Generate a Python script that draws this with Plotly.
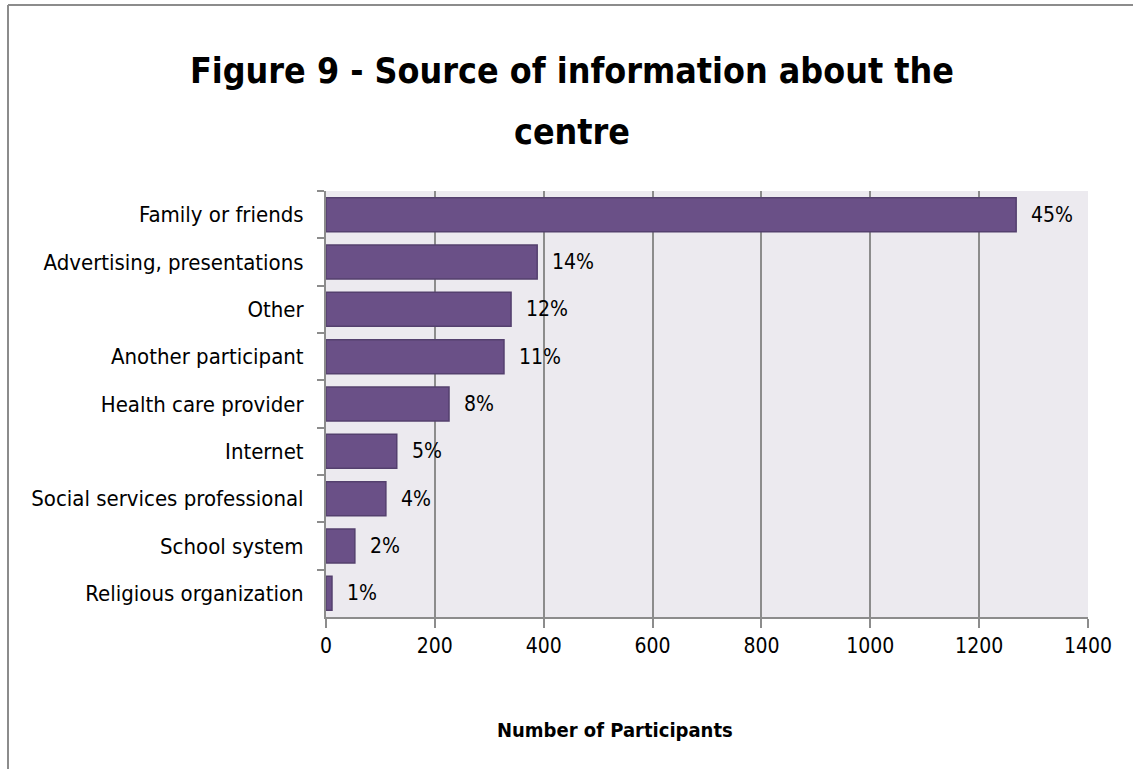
import plotly.graph_objects as go

categories = [
    "Family or friends",
    "Advertising, presentations",
    "Other",
    "Another participant",
    "Health care provider",
    "Internet",
    "Social services professional",
    "School system",
    "Religious organization",
]
participants = [1268, 388, 340, 327, 226, 130, 110, 53, 11]
share_labels = ["45%", "14%", "12%", "11%", "8%", "5%", "4%", "2%", "1%"]
x_ticks = [0, 200, 400, 600, 800, 1000, 1200, 1400]

FONT = "Liberation Sans Narrow, DejaVu Sans Condensed, Roboto, sans-serif"

# plot area in pixels: x 326..1088, y 191..617
L, R, T, B = 326, 1088, 191, 617


def px_x(p):
    return (p - L) / (R - L)


def px_y(p):
    return (B - p) / (B - T)


fig = go.Figure(
    go.Bar(
        x=participants,
        y=categories,
        orientation="h",
        marker=dict(color="#6A5087", line=dict(color="#54406E", width=1.5)),
        width=0.72,
        hoverinfo="skip",
    )
)

for val, cat, lab in zip(participants, categories, share_labels):
    fig.add_annotation(
        x=val, y=cat, text=lab, xanchor="left", xshift=13,
        showarrow=False, font=dict(family=FONT, size=21, color="#000000"),
    )

# outer chart frame (top and left edges)
fig.add_shape(type="line", xref="paper", yref="paper",
              x0=px_x(8), x1=px_x(1140), y0=px_y(5), y1=px_y(5),
              line=dict(color="#8C8C8C", width=2))
fig.add_shape(type="line", xref="paper", yref="paper",
              x0=px_x(8), x1=px_x(8), y0=px_y(5), y1=px_y(800),
              line=dict(color="#8C8C8C", width=2))

for text, ypix in [("<b>Figure 9 - Source of information about the</b>", 70),
                   ("<b>centre</b>", 131)]:
    fig.add_annotation(
        xref="paper", yref="paper", x=px_x(572), y=px_y(ypix),
        text=text, showarrow=False, xanchor="center", yanchor="middle",
        font=dict(family=FONT, size=35.5, color="#000000"),
    )

fig.add_annotation(
    xref="paper", yref="paper", x=px_x(615), y=px_y(730),
    text="<b>Number of Participants</b>", showarrow=False,
    xanchor="center", yanchor="middle",
    font=dict(family=FONT, size=20, color="#000000"),
)

fig.update_layout(
    width=1133, height=769,
    margin=dict(l=L, r=1133 - R, t=T, b=769 - B),
    paper_bgcolor="#FFFFFF",
    plot_bgcolor="#ECEAEF",
    showlegend=False,
    bargap=0.28,
    font=dict(family=FONT, size=20, color="#000000"),
)
fig.update_xaxes(
    range=[0, 1400], tickvals=x_ticks, ticktext=[str(t) for t in x_ticks],
    showgrid=True, gridcolor="#8C8C8C", gridwidth=1.5,
    showline=True, linecolor="#8C8C8C", linewidth=2,
    ticks="outside", ticklen=9, tickcolor="#8C8C8C", tickwidth=1.5,
    tickfont=dict(size=21), ticklabelstandoff=0,
    zeroline=False,
)
fig.update_yaxes(
    autorange="reversed", showline=True, linecolor="#8C8C8C", linewidth=2,
    ticks="outside", ticklen=7, tickcolor="#8C8C8C", tickwidth=1.5,
    tickson="boundaries", showgrid=False,
    tickfont=dict(size=22), ticklabelstandoff=16,
)

fig.write_html("out.html")
